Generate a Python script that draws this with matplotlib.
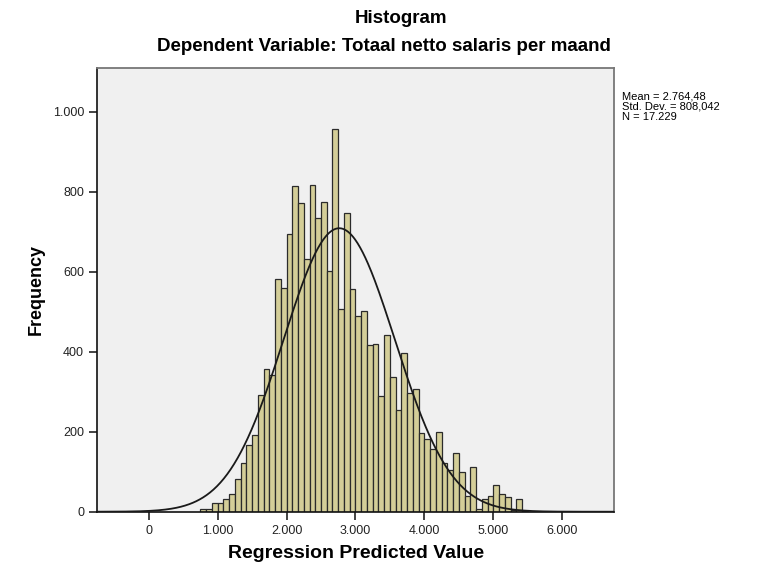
import numpy as np
import matplotlib
matplotlib.use("Agg")
import matplotlib.pyplot as plt
from matplotlib.ticker import FuncFormatter

plt.rcParams['font.family'] = ['Liberation Sans', 'DejaVu Sans']

# bins of width 1000/12 starting at 750
bin_width = 1000 / 12
first_edge = 750
counts = [8, 7, 21, 21, 32, 44, 83, 123, 168, 193,
          291, 356, 343, 582, 560, 694, 815, 773, 632, 816,
          735, 775, 603, 958, 508, 748, 558, 490, 503, 418,
          419, 290, 442, 338, 254, 398, 296, 307, 196, 183,
          157, 199, 123, 104, 148, 100, 40, 113, 8, 32,
          40, 67, 44, 36, 5, 33, 3]

mean = 2764.48
std = 808.042
n = 17229

x_ticks = [0, 1000, 2000, 3000, 4000, 5000, 6000]
y_ticks = [0, 200, 400, 600, 800, 1000]


def nl_fmt(v, pos=None):
    return f"{int(round(v)):,}".replace(",", ".")


fig = plt.figure(figsize=(7.64, 5.65), dpi=100)
ax = fig.add_axes([0.1274, 0.0943, 0.6766, 0.7857])
ax.set_facecolor('#f0f0f0')

lefts = first_edge + bin_width * np.arange(len(counts))
ax.bar(lefts, counts, width=bin_width, align='edge', color='#d4ce98',
       edgecolor='#2b2b2b', linewidth=0.9, zorder=2)

xs = np.linspace(-750, 6750, 600)
curve = n * bin_width / (std * np.sqrt(2 * np.pi)) * np.exp(-0.5 * ((xs - mean) / std) ** 2)
ax.plot(xs, curve, color='#1a1a1a', linewidth=1.3, zorder=3)

ax.set_xlim(-745, 6755)
ax.set_ylim(0, 1110)
ax.set_xticks(x_ticks)
ax.set_yticks(y_ticks)
ax.xaxis.set_major_formatter(FuncFormatter(nl_fmt))
ax.yaxis.set_major_formatter(FuncFormatter(nl_fmt))
ax.tick_params(axis='both', direction='out', length=6, width=1.2, labelsize=9, colors='#222222')

for side in ['top', 'right']:
    ax.spines[side].set_color('#777777')
    ax.spines[side].set_linewidth(1.3)
for side in ['left', 'bottom']:
    ax.spines[side].set_color('#111111')
    ax.spines[side].set_linewidth(1.2)

ax.set_xlabel('Regression Predicted Value', fontsize=14, fontweight='bold', labelpad=6)
ax.set_ylabel('Frequency', fontsize=13, fontweight='bold', labelpad=6)

fig.text(0.525, 0.968, 'Histogram', ha='center', va='center', fontsize=13.5, fontweight='bold')
fig.text(0.502, 0.918, 'Dependent Variable: Totaal netto salaris per maand',
         ha='center', va='center', fontsize=13.5, fontweight='bold')

fig.text(0.8135, 0.838, 'Mean = 2.764,48\nStd. Dev. = 808,042\nN = 17.229',
         ha='left', va='top', fontsize=8, linespacing=1.05)

fig.savefig('out.png', dpi=100)
